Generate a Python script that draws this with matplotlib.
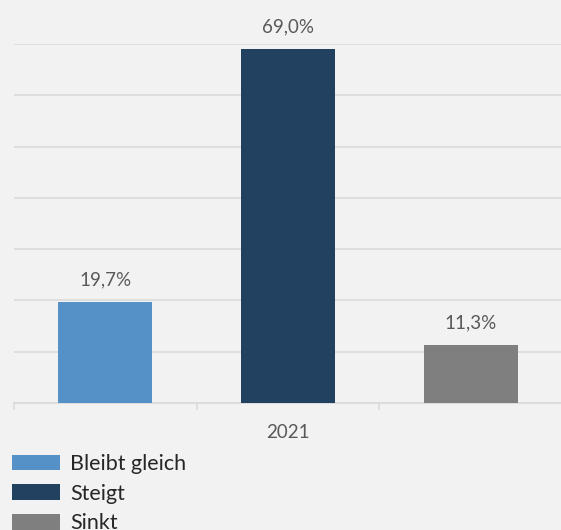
import matplotlib
matplotlib.use("Agg")
import matplotlib.pyplot as plt
from matplotlib.patches import Patch

plt.rcParams["font.family"] = ["Lato", "DejaVu Sans"]

CATEGORY = "2021"
SERIES = ["Bleibt gleich", "Steigt", "Sinkt"]
VALUES = [19.7, 69.0, 11.3]
LABELS = ["19,7%", "69,0%", "11,3%"]
COLORS = ["#5590C7", "#22405F", "#7F7F7F"]
BG = "#F2F2F2"
GRID = "#DCDCDC"

fig = plt.figure(figsize=(5.61, 5.30), dpi=100, facecolor=BG)
ax = fig.add_axes([14 / 561, 1 - 403 / 530, 548 / 561, (403 - 44) / 530])
ax.set_facecolor(BG)

positions = list(range(len(VALUES)))
bars = ax.bar(positions, VALUES, width=0.515, color=COLORS, zorder=3)

for bar, text in zip(bars, LABELS):
    ax.annotate(
        text,
        (bar.get_x() + bar.get_width() / 2, bar.get_height()),
        xytext=(0, 16),
        textcoords="offset points",
        ha="center",
        va="center",
        fontsize=13.5,
        color="#595959",
        annotation_clip=False,
    )

ax.set_xlim(-0.5, 2.5)
ax.set_ylim(0, 70)
ax.set_yticks(range(0, 71, 10))
ax.yaxis.grid(True, color=GRID, linewidth=1.3, zorder=0)
ax.tick_params(axis="y", left=False, labelleft=False)

ax.set_xticks([1])
ax.set_xticklabels([CATEGORY], fontsize=13.5, color="#595959")
ax.set_xticks([-0.5, 0.5, 1.5, 2.5], minor=True)
ax.tick_params(axis="x", which="major", length=0, pad=15)
ax.tick_params(axis="x", which="minor", length=5, width=1.3, color=GRID)

for side in ("top", "right", "left"):
    ax.spines[side].set_visible(False)
ax.spines["bottom"].set_color(GRID)
ax.spines["bottom"].set_linewidth(1.5)

handles = [Patch(facecolor=c, edgecolor="none") for c in COLORS]
fig.legend(
    handles,
    SERIES,
    loc="upper left",
    bbox_to_anchor=(14 / 561 - 0.003, 1 - 454 / 530),
    frameon=False,
    fontsize=15.5,
    handlelength=2.2,
    handleheight=0.75,
    handletextpad=0.5,
    labelspacing=0.45,
    borderaxespad=0,
    borderpad=0,
    labelcolor="#262626",
)

fig.savefig("out.png", dpi=100, facecolor=BG)
